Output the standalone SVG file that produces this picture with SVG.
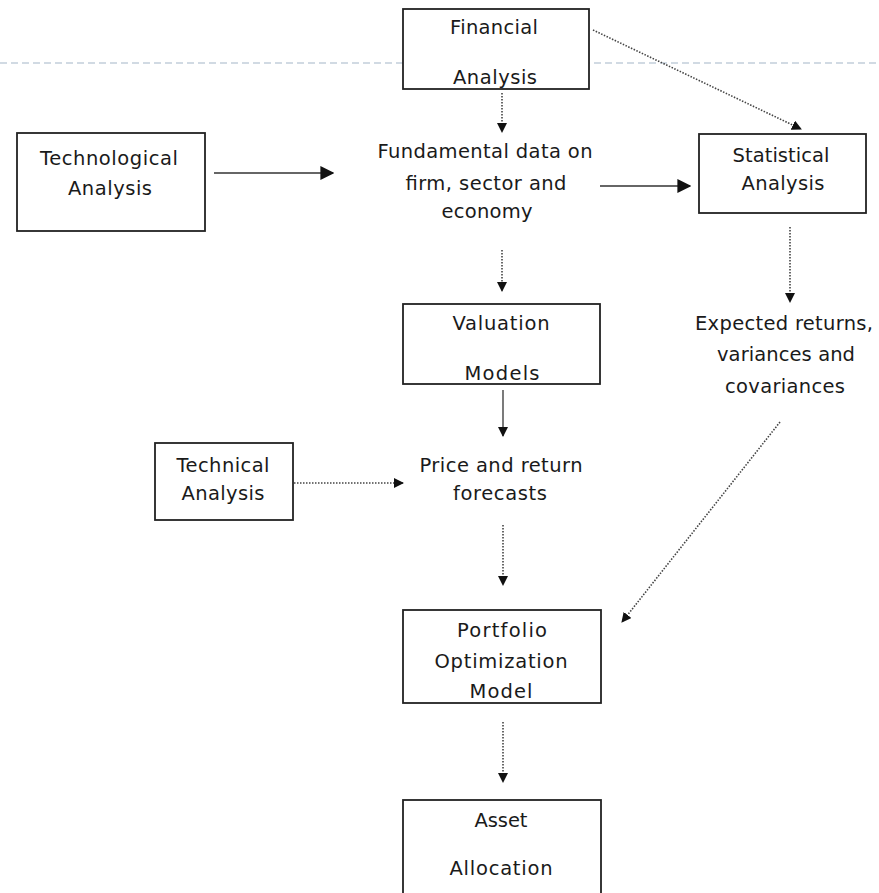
<svg xmlns="http://www.w3.org/2000/svg" width="879" height="893" viewBox="0 0 879 893">
<style>
.box{fill:#fff;stroke:#222;stroke-width:1.8}
.t{font-family:"DejaVu Sans",Verdana,sans-serif;font-size:19.5px;fill:#1a1a1a;text-anchor:middle}
.s{stroke:#333;stroke-width:1.3;fill:none}
.d{stroke:#444;stroke-width:1.6;fill:none;stroke-dasharray:1.5 1.5}
</style>
<defs>
<marker id="ah" viewBox="0 0 10 10" refX="9" refY="5" markerWidth="10" markerHeight="10" markerUnits="userSpaceOnUse" orient="auto"><path d="M0,0 L10,5 L0,10 z" fill="#111"/></marker>
<marker id="ahl" viewBox="0 0 10 10" refX="9" refY="5" markerWidth="14" markerHeight="14" markerUnits="userSpaceOnUse" orient="auto"><path d="M0,0 L10,5 L0,10 z" fill="#111"/></marker>
</defs>
<line x1="0" y1="63" x2="879" y2="63" stroke="#a3b5c8" stroke-width="1.2" stroke-dasharray="7 4"/>
<g id="connectors">
<line class="d" x1="502" y1="93" x2="502" y2="132" marker-end="url(#ah)"/>
<line class="d" x1="593" y1="30" x2="801" y2="129" marker-end="url(#ah)"/>
<line class="s" x1="214" y1="173" x2="333" y2="173" marker-end="url(#ahl)"/>
<line class="s" x1="600" y1="186" x2="690" y2="186" marker-end="url(#ahl)"/>
<line class="d" x1="790" y1="227" x2="790" y2="302" marker-end="url(#ah)"/>
<line class="d" x1="502" y1="250" x2="502" y2="291" marker-end="url(#ah)"/>
<line class="s" x1="503" y1="390" x2="503" y2="436" marker-end="url(#ah)"/>
<line class="d" x1="294" y1="483" x2="403" y2="483" marker-end="url(#ah)"/>
<line class="d" x1="503" y1="525" x2="503" y2="585" marker-end="url(#ah)"/>
<line class="d" x1="780" y1="422" x2="622" y2="622" marker-end="url(#ah)"/>
<line class="d" x1="503" y1="722" x2="503" y2="782" marker-end="url(#ah)"/>
</g>
<g id="financial"><rect class="box" x="403" y="9" width="186" height="80"/><text class="t" x="494" y="34" textLength="88" lengthAdjust="spacing">Financial</text><text class="t" x="495" y="84" textLength="84" lengthAdjust="spacing">Analysis</text></g>
<g id="technological"><rect class="box" x="17" y="133" width="188" height="98"/><text class="t" x="109" y="165" textLength="138" lengthAdjust="spacing">Technological</text><text class="t" x="110" y="195" textLength="84" lengthAdjust="spacing">Analysis</text></g>
<g id="fundamental"><text class="t" x="485" y="158" textLength="215" lengthAdjust="spacing">Fundamental data on</text><text class="t" x="486" y="190" textLength="161" lengthAdjust="spacing">firm, sector and</text><text class="t" x="487" y="218" textLength="91" lengthAdjust="spacing">economy</text></g>
<g id="statistical"><rect class="box" x="699" y="134" width="167" height="79"/><text class="t" x="781" y="162" textLength="97" lengthAdjust="spacing">Statistical</text><text class="t" x="783" y="190" textLength="83" lengthAdjust="spacing">Analysis</text></g>
<g id="expected"><text class="t" x="784" y="330" textLength="178" lengthAdjust="spacing">Expected returns,</text><text class="t" x="786" y="361" textLength="138" lengthAdjust="spacing">variances and</text><text class="t" x="785" y="393" textLength="120" lengthAdjust="spacing">covariances</text></g>
<g id="valuation"><rect class="box" x="403" y="304" width="197" height="80"/><text class="t" x="501" y="330" textLength="97" lengthAdjust="spacing">Valuation</text><text class="t" x="502" y="380" textLength="75" lengthAdjust="spacing">Models</text></g>
<g id="technical"><rect class="box" x="155" y="443" width="138" height="77"/><text class="t" x="223" y="472" textLength="93" lengthAdjust="spacing">Technical</text><text class="t" x="223" y="500" textLength="83" lengthAdjust="spacing">Analysis</text></g>
<g id="forecasts"><text class="t" x="501" y="472" textLength="163" lengthAdjust="spacing">Price and return</text><text class="t" x="500" y="500" textLength="94" lengthAdjust="spacing">forecasts</text></g>
<g id="portfolio"><rect class="box" x="403" y="610" width="198" height="93"/><text class="t" x="502" y="637" textLength="90" lengthAdjust="spacing">Portfolio</text><text class="t" x="501" y="668" textLength="133" lengthAdjust="spacing">Optimization</text><text class="t" x="501" y="698" textLength="63" lengthAdjust="spacing">Model</text></g>
<g id="asset"><rect class="box" x="403" y="800" width="198" height="100"/><text class="t" x="501" y="827" textLength="53" lengthAdjust="spacing">Asset</text><text class="t" x="501" y="875" textLength="103" lengthAdjust="spacing">Allocation</text></g>
</svg>
